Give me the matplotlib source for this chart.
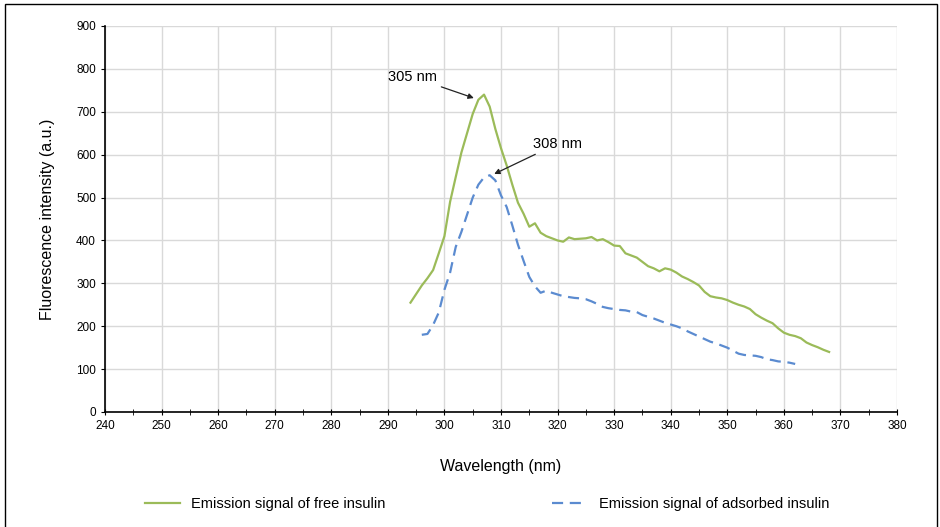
import matplotlib.pyplot as plt
from matplotlib.patches import Rectangle
from matplotlib.ticker import MultipleLocator

# free insulin, 1 nm steps from 294 to 368
free_nm = list(range(294, 369))
free_val = [255, 275, 295, 312, 331, 370, 410, 490, 548, 605,
            650, 695, 728, 740, 712, 660, 615, 575, 530, 488,
            462, 432, 440, 418, 410, 405, 400, 397, 407, 403,
            404, 405, 408, 400, 403, 396, 388, 387, 370, 365,
            360, 350, 340, 335, 328, 335, 332, 325, 316, 310,
            303, 295, 280, 270, 267, 265, 261, 255, 250, 246,
            240, 228, 220, 213, 207, 195, 185, 180, 177, 172,
            162, 156, 151, 145, 140]

# adsorbed insulin, 1 nm steps from 296 to 362
ads_nm = list(range(296, 363))
ads_val = [180, 182, 203, 232, 285, 325, 385, 420, 460, 500,
           530, 547, 552, 540, 505, 478, 435, 390, 352, 315,
           293, 278, 283, 278, 274, 270, 268, 266, 265, 263,
           258, 252, 245, 242, 240, 238, 237, 234, 233, 226,
           222, 218, 213, 208, 204, 200, 195, 188, 182, 176,
           170, 164, 160, 155, 150, 143, 136, 133, 132, 131,
           128, 123, 121, 118, 117, 115, 112]

plt.rcParams['font.family'] = ['Liberation Sans', 'DejaVu Sans']

fig = plt.figure(figsize=(9.4, 5.27), dpi=100)
ax = fig.add_axes([105/940, 1 - 412/527, 792/940, 386/527])

ax.plot(free_nm, free_val, color='#9BBB59', lw=1.6,
        label='Emission signal of free insulin')
ax.plot(ads_nm, ads_val, color='#5B8BD0', lw=1.6, ls=(0, (5, 3)),
        label='Emission signal of adsorbed insulin')

ax.set_xlim(240, 380)
ax.set_ylim(0, 900)
ax.xaxis.set_major_locator(MultipleLocator(10))
ax.xaxis.set_minor_locator(MultipleLocator(5))
ax.yaxis.set_major_locator(MultipleLocator(100))
ax.grid(True, color='#D9D9D9', lw=1)
ax.set_axisbelow(True)
for s in ('top', 'right'):
    ax.spines[s].set_visible(False)
ax.spines['left'].set_linewidth(1.2)
ax.spines['bottom'].set_linewidth(1.2)
ax.tick_params(axis='x', which='both', direction='inout', length=5, labelsize=8.5, pad=3)
ax.tick_params(axis='x', which='minor', length=4)
ax.tick_params(axis='y', direction='out', length=3, labelsize=8.5)

ax.set_xlabel('Wavelength (nm)', fontsize=11.5, labelpad=20)
ax.set_ylabel('Fluorescence intensity (a.u.)', fontsize=11.5, labelpad=15)

ax.annotate('305 nm', xy=(305.2, 732), xytext=(294.4, 781),
            ha='center', va='center', fontsize=10.5,
            arrowprops=dict(arrowstyle='-|>', color='#222222', lw=0.9,
                            shrinkA=1, shrinkB=0, mutation_scale=8))
ax.annotate('308 nm', xy=(308.8, 555), xytext=(319.9, 625),
            ha='center', va='center', fontsize=10.5,
            arrowprops=dict(arrowstyle='-|>', color='#222222', lw=0.9,
                            shrinkA=1, shrinkB=0, mutation_scale=8))

fig.legend(loc='center', bbox_to_anchor=(0.518, 1 - 504/527), ncol=2,
           frameon=False, fontsize=10.5, handlelength=2.4, columnspacing=11.4)

fig.patches.append(Rectangle((5/940, -0.01), 932/940, 1.01 - 4/527,
                             transform=fig.transFigure, fill=False,
                             edgecolor='black', lw=1))

fig.savefig('out.png', dpi=100)
